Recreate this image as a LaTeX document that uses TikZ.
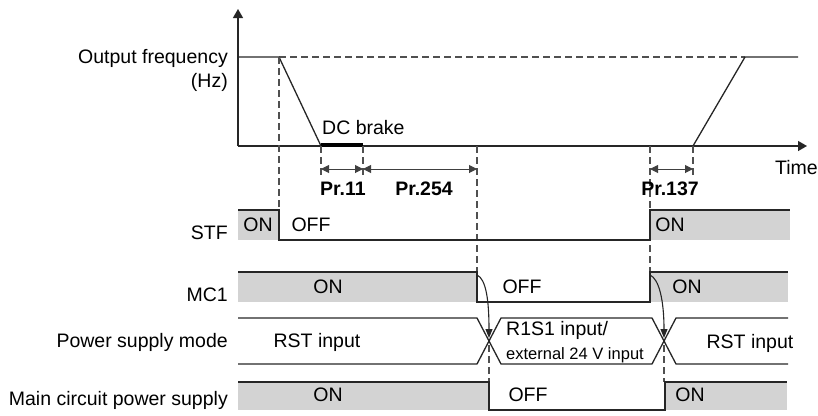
\documentclass[tikz,border=0pt]{standalone}
\usepackage{fontspec}
\setmainfont{Liberation Sans}
\usetikzlibrary{arrows.meta,positioning,calc}
\definecolor{onfill}{RGB}{211,211,211}
\definecolor{guidegray}{RGB}{80,80,80}
\tikzset{
sigline/.style={draw=black!85,line width=1.3pt},
onbox/.style={fill=onfill,draw=none},
guide/.style={draw=guidegray,line width=1.2pt,dash pattern=on 7pt off 4pt},
axisarr/.style={sigline,-{Triangle[length=9pt,width=10pt]}},
dimarr/.style={draw=black!75,line width=1pt,{Triangle[length=8pt,width=8pt]}-{Triangle[length=8pt,width=8pt]}},
edgearr/.style={draw=black!85,line width=1.1pt,-{Triangle[length=9pt,width=7pt]}},
rowlbl/.style={anchor=east,inner sep=0pt,font=\fontsize{19.5}{24}\selectfont},
statelbl/.style={inner sep=0pt,font=\fontsize{19.5}{24}\selectfont},
smalllbl/.style={inner sep=0pt,font=\fontsize{16.5}{20}\selectfont},
prlbl/.style={inner sep=0pt,font=\fontsize{19.5}{24}\selectfont\bfseries}
}
\begin{document}
\begin{tikzpicture}[x=1pt,y=-1pt]
\useasboundingbox (0,0) rectangle (818,415);
% output frequency graph
\coordinate (org) at (238,146);
\draw[guide] (279,57) -- (745,57);
\draw[axisarr] (org) -- (238,9);
\draw[axisarr] (org) -- (807,146);
\draw[sigline] (238,57) -- (279,57) -- (321,146);
\draw[sigline] (693,146) -- (745,57) -- (798,57);
\draw[line width=4pt] (321,145) -- (363,145);
\node[rowlbl,align=right] (freq) at (228,70) {Output frequency\\(Hz)};
\node[statelbl,anchor=west] (dcbrake) at (322,128) {DC brake};
\node[statelbl,anchor=east] (time) at (818,168) {Time};
% guide lines
\foreach \x/\a/\b in {279/57/210,321/146/178,363/146/178,477/146/272,650/146/272,693/146/178,489/345/382,664/345/382}
  \draw[guide] (\x,\a) -- (\x,\b);
% parameter times
\foreach \a/\b in {321/363,363/477,650/693}
  \draw[dimarr] (\a,169) -- (\b,169);
\node[prlbl] (pr11) at (343,189) {Pr.11};
\node[prlbl] (pr254) at (424,189) {Pr.254};
\node[prlbl] (pr137) at (670,189) {Pr.137};
% STF
\fill[onbox] (238,210) rectangle (279,240);
\fill[onbox] (650,210) rectangle (790,240);
\draw[sigline] (238,210) -- (279,210) -- (279,240) -- (650,240) -- (650,210) -- (790,210);
\node[rowlbl] (stf) at (228,233) {STF};
\node[statelbl] (stfon) at (258,225) {ON};
\node[statelbl] (stfoff) at (311,225) {OFF};
\node[statelbl] (stfon2) at (670,225) {ON};
% MC1
\fill[onbox] (238,272) rectangle (477,302);
\fill[onbox] (650,272) rectangle (788,302);
\draw[sigline] (238,272) -- (477,272) -- (477,302) -- (650,302) -- (650,272) -- (788,272);
\node[rowlbl] (mc) at (228,295) {MC1};
\node[statelbl] (mcon) at (328,287) {ON};
\node[statelbl] (mcoff) at (522,287) {OFF};
\node[statelbl] (mcon2) at (687,287) {ON};
% power supply mode
\coordinate (xa) at (489,341);
\coordinate (xb) at (664,341);
\draw[sigline] (238,318) -- (477,318) -- (501,364) -- (652,364) -- (676,318) -- (788,318);
\draw[sigline] (238,364) -- (477,364) -- (501,318) -- (652,318) -- (676,364) -- (788,364);
\node[rowlbl] (psm) at (228,342) {Power supply mode};
\node[statelbl] (rst) at (317,342) {RST input};
\node[statelbl,anchor=west] (r1s1) at (506,330) {R1S1 input/};
\node[smalllbl,anchor=west] (ext) at (506,355) {external 24 V input};
\node[statelbl] (rst2) at (750,343) {RST input};
\coordinate (mcfall) at (477,275);
\coordinate (mcrise) at (650,275);
\draw[edgearr] (mcfall) .. controls (486,279) and (489,300) .. ($(xa)+(0,-3)$);
\draw[edgearr] (mcrise) .. controls (659,279) and (664,300) .. ($(xb)+(0,-3)$);
% main circuit power supply
\fill[onbox] (238,382) rectangle (489,410);
\fill[onbox] (665,382) rectangle (787,410);
\draw[sigline] (238,382) -- (489,382) -- (489,410) -- (665,410) -- (665,382) -- (787,382);
\node[rowlbl] (mcps) at (228,400) {Main circuit power supply};
\node[statelbl] (mcpson) at (328,395) {ON};
\node[statelbl] (mcpsoff) at (528,395) {OFF};
\node[statelbl] (mcpson2) at (690,395) {ON};
\end{tikzpicture}
\end{document}
